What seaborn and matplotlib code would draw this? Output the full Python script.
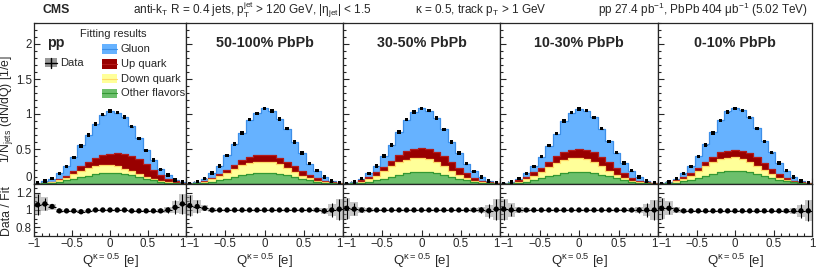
import numpy as np
import pandas as pd
import matplotlib
matplotlib.use("Agg")
import matplotlib.pyplot as plt
import matplotlib.ticker as mticker
from matplotlib.patches import Rectangle
from matplotlib.lines import Line2D
import seaborn as sns

# panels and binning
panels = ["pp", "50-100% PbPb", "30-50% PbPb", "10-30% PbPb", "0-10% PbPb"]
bin_edges = np.linspace(-1, 1, 22)
bin_centers = 0.5 * (bin_edges[:-1] + bin_edges[1:])

# data (per bin, 1/Njets dN/dQ)
data_pp = [0.02, 0.04, 0.08, 0.15, 0.25, 0.38, 0.54, 0.70, 0.86, 0.99, 1.04, 1.02, 0.96, 0.82, 0.65, 0.48, 0.34, 0.21, 0.13, 0.06, 0.03]
data_50100 = [0.01, 0.035, 0.08, 0.16, 0.26, 0.41, 0.57, 0.73, 0.92, 1.01, 1.08, 1.04, 0.93, 0.79, 0.60, 0.44, 0.29, 0.19, 0.10, 0.045, 0.015]
data_3050 = [0.01, 0.03, 0.075, 0.15, 0.26, 0.40, 0.56, 0.74, 0.92, 1.03, 1.08, 1.05, 0.94, 0.78, 0.60, 0.44, 0.29, 0.18, 0.10, 0.045, 0.015]
data_1030 = [0.01, 0.03, 0.075, 0.15, 0.25, 0.39, 0.55, 0.72, 0.90, 1.02, 1.07, 1.05, 0.95, 0.79, 0.61, 0.45, 0.30, 0.19, 0.10, 0.045, 0.015]
data_010 = [0.01, 0.03, 0.075, 0.15, 0.25, 0.39, 0.56, 0.73, 0.91, 1.03, 1.08, 1.05, 0.95, 0.79, 0.61, 0.45, 0.30, 0.19, 0.10, 0.045, 0.015]

# stacked fit components (cumulative tops: other < down < up < gluon)
up_pp = [0.006, 0.016, 0.035, 0.065, 0.11, 0.18, 0.26, 0.32, 0.37, 0.41, 0.43, 0.44, 0.43, 0.40, 0.35, 0.28, 0.20, 0.13, 0.075, 0.04, 0.016]
down_pp = [0.005, 0.012, 0.028, 0.055, 0.09, 0.14, 0.19, 0.235, 0.26, 0.27, 0.265, 0.25, 0.22, 0.18, 0.14, 0.10, 0.07, 0.045, 0.025, 0.012, 0.005]
other_pp = [0.003, 0.008, 0.016, 0.03, 0.05, 0.07, 0.095, 0.12, 0.14, 0.155, 0.16, 0.155, 0.145, 0.125, 0.10, 0.075, 0.05, 0.03, 0.018, 0.009, 0.004]

up_50100 = [0.005, 0.02, 0.045, 0.09, 0.145, 0.20, 0.27, 0.34, 0.39, 0.41, 0.415, 0.41, 0.37, 0.32, 0.25, 0.19, 0.13, 0.09, 0.05, 0.03, 0.01]
down_50100 = [0.004, 0.015, 0.035, 0.07, 0.11, 0.16, 0.22, 0.27, 0.30, 0.32, 0.32, 0.31, 0.28, 0.23, 0.17, 0.12, 0.08, 0.05, 0.03, 0.015, 0.006]
other_50100 = [0.003, 0.008, 0.018, 0.032, 0.05, 0.075, 0.10, 0.125, 0.145, 0.158, 0.162, 0.158, 0.145, 0.125, 0.10, 0.075, 0.052, 0.033, 0.019, 0.009, 0.004]

up_3050 = [0.006, 0.02, 0.05, 0.10, 0.17, 0.24, 0.33, 0.41, 0.47, 0.50, 0.51, 0.50, 0.46, 0.40, 0.32, 0.23, 0.15, 0.09, 0.05, 0.025, 0.01]
down_3050 = [0.005, 0.015, 0.035, 0.07, 0.12, 0.18, 0.25, 0.31, 0.35, 0.37, 0.37, 0.35, 0.31, 0.25, 0.19, 0.13, 0.085, 0.05, 0.028, 0.013, 0.005]
other_3050 = [0.003, 0.008, 0.018, 0.033, 0.052, 0.078, 0.105, 0.13, 0.152, 0.166, 0.17, 0.166, 0.152, 0.13, 0.105, 0.078, 0.054, 0.034, 0.02, 0.01, 0.004]

up_1030 = [0.006, 0.02, 0.05, 0.10, 0.165, 0.235, 0.32, 0.40, 0.46, 0.49, 0.50, 0.49, 0.45, 0.39, 0.31, 0.23, 0.15, 0.09, 0.05, 0.025, 0.01]
down_1030 = [0.005, 0.015, 0.035, 0.07, 0.115, 0.175, 0.245, 0.30, 0.345, 0.365, 0.37, 0.35, 0.31, 0.25, 0.19, 0.13, 0.085, 0.05, 0.028, 0.013, 0.005]
other_1030 = [0.003, 0.009, 0.019, 0.035, 0.055, 0.08, 0.108, 0.135, 0.158, 0.17, 0.175, 0.17, 0.157, 0.135, 0.108, 0.08, 0.055, 0.035, 0.02, 0.01, 0.004]

up_010 = [0.006, 0.02, 0.05, 0.095, 0.16, 0.23, 0.31, 0.39, 0.45, 0.475, 0.485, 0.475, 0.44, 0.38, 0.30, 0.22, 0.145, 0.09, 0.05, 0.025, 0.01]
down_010 = [0.005, 0.015, 0.037, 0.072, 0.12, 0.18, 0.25, 0.31, 0.355, 0.375, 0.38, 0.36, 0.32, 0.26, 0.20, 0.14, 0.09, 0.055, 0.03, 0.014, 0.006]
other_010 = [0.003, 0.01, 0.021, 0.038, 0.06, 0.087, 0.117, 0.145, 0.17, 0.185, 0.19, 0.185, 0.17, 0.147, 0.118, 0.088, 0.06, 0.038, 0.022, 0.011, 0.004]

# data / fit ratio
ratio_pp = [1.06, 1.07, 1.04, 0.99, 0.99, 0.99, 0.98, 0.99, 1.0, 1.0, 1.0, 1.0, 1.0, 0.99, 0.99, 0.99, 0.99, 0.99, 1.0, 1.03, 1.07]
ratio_50100 = [1.05, 1.04, 1.02, 1.0, 1.0, 1.0, 1.0, 1.0, 1.0, 1.0, 1.0, 1.0, 1.0, 1.0, 1.0, 1.0, 1.0, 1.0, 0.99, 1.0, 1.01]
ratio_3050 = [1.02, 1.01, 1.0, 1.0, 1.0, 1.0, 1.0, 1.0, 1.0, 1.0, 1.0, 1.0, 1.0, 1.0, 1.0, 1.0, 1.0, 1.0, 1.0, 0.99, 1.01]
ratio_1030 = [1.01, 1.0, 1.0, 1.0, 1.0, 1.0, 1.0, 1.0, 1.0, 1.0, 1.0, 1.0, 1.0, 1.0, 1.0, 1.0, 1.0, 1.0, 1.0, 1.0, 1.0]
ratio_010 = [1.02, 1.02, 1.0, 0.99, 0.99, 0.99, 0.99, 0.99, 0.99, 0.99, 0.99, 0.99, 0.99, 0.99, 0.99, 0.99, 0.99, 0.99, 0.99, 0.99, 0.99]
ratio_stat = [0.12, 0.07, 0.02, 0.01, 0.005, 0.005, 0.005, 0.005, 0.005, 0.005, 0.005, 0.005, 0.005, 0.005, 0.005, 0.005, 0.005, 0.01, 0.03, 0.08, 0.12]
ratio_syst = [0.12, 0.08, 0.035, 0.02, 0.015, 0.015, 0.015, 0.015, 0.015, 0.015, 0.015, 0.015, 0.015, 0.015, 0.015, 0.015, 0.015, 0.02, 0.035, 0.07, 0.12]

data_all = [data_pp, data_50100, data_3050, data_1030, data_010]
up_all = [up_pp, up_50100, up_3050, up_1030, up_010]
down_all = [down_pp, down_50100, down_3050, down_1030, down_010]
other_all = [other_pp, other_50100, other_3050, other_1030, other_010]
ratio_all = [ratio_pp, ratio_50100, ratio_3050, ratio_1030, ratio_010]

flavors = ["Gluon", "Up quark", "Down quark", "Other flavors"]
fills = ["#66b2ff", "#990000", "#ffff99", "#6cbf6c"]
edges = ["#3d8fe8", "#b31a1a", "#ffd966", "#339933"]

sns.set_style("ticks")
plt.rcParams["font.family"] = ["Liberation Sans", "DejaVu Sans"]
plt.rcParams["mathtext.default"] = "regular"
plt.rcParams["axes.linewidth"] = 0.9

W, H = 830, 274
xs = [34, 186, 343, 500, 658, 812]
top, mid, bot = 23, 184, 236

fig = plt.figure(figsize=(W / 100, H / 100), dpi=100)
fmt = mticker.FuncFormatter(lambda v, p: f"{v:g}".replace("-", "\u2212"))
half_bin = 0.5 * (bin_edges[1] - bin_edges[0])
main_axes, ratio_axes = [], []

for i, name in enumerate(panels):
    x0, x1 = xs[i], xs[i + 1]
    ax = fig.add_axes([x0 / W, 1 - mid / H, (x1 - x0) / W, (mid - top) / H])
    rax = fig.add_axes([x0 / W, 1 - bot / H, (x1 - x0) / W, (bot - mid) / H])
    main_axes.append(ax)
    ratio_axes.append(rax)

    data = np.array(data_all[i])
    ratio = np.array(ratio_all[i])
    fit = data / ratio
    layers = [fit, up_all[i], down_all[i], other_all[i]]
    for vals, fc, ec in zip(layers, fills, edges):
        df = pd.DataFrame({"q": bin_centers, "w": vals})
        sns.histplot(data=df, x="q", weights="w", bins=list(bin_edges), element="step",
                     fill=True, color=fc, edgecolor=ec, alpha=1, linewidth=0.9, ax=ax)
    sns.scatterplot(x=bin_centers, y=data, color="black", s=6, marker="s",
                    edgecolor="none", ax=ax, zorder=5)
    ax.errorbar(bin_centers, data, xerr=0.012, fmt="none", ecolor="black", elinewidth=0.8, zorder=5)

    # ratio panel
    syst = np.array(ratio_syst)
    rax.bar(bin_centers, 2 * syst, bottom=ratio - syst, width=2 * half_bin,
            color="#9a9a9a", alpha=0.55, linewidth=0)
    rax.errorbar(bin_centers, ratio, yerr=ratio_stat, xerr=half_bin,
                 fmt="none", ecolor="black", elinewidth=0.8, zorder=4)
    sns.scatterplot(x=bin_centers, y=ratio, color="black", s=15, edgecolor="none", ax=rax, zorder=5)

    for a in (ax, rax):
        a.set_xlim(-1, 1)
        a.set_xlabel("")
        a.set_ylabel("")
        a.xaxis.set_major_locator(mticker.MultipleLocator(0.5))
        a.xaxis.set_minor_locator(mticker.MultipleLocator(0.1))
        a.tick_params(which="both", direction="in", top=False, right=False, width=0.8, labelsize=8.3, pad=1.5)
        a.tick_params(which="major", length=4.5)
        a.tick_params(which="minor", length=2.3)
        a.xaxis.set_major_formatter(fmt)
        a.yaxis.set_major_formatter(fmt)
    ax.set_ylim(0, 2.3)
    ax.yaxis.set_major_locator(mticker.MultipleLocator(0.5))
    ax.yaxis.set_minor_locator(mticker.MultipleLocator(0.1))
    ax.tick_params(labelbottom=False)
    rax.set_ylim(0.7, 1.3)
    rax.yaxis.set_major_locator(mticker.FixedLocator([0.8, 1.0, 1.2]))
    rax.yaxis.set_minor_locator(mticker.MultipleLocator(0.05))
    if i > 0:
        ax.tick_params(labelleft=False)
        rax.tick_params(labelleft=False)
    rax.set_xlabel(r"Q$^{\kappa=0.5}$ [e]", fontsize=9.5, labelpad=1)

    if i == 0:
        ax.text(0.085, 0.876, name, transform=ax.transAxes, fontsize=10.3, fontweight="bold", va="center")
        # data legend entry
        ax.add_patch(Rectangle((0.072, 0.725), 0.08, 0.055, transform=ax.transAxes,
                               facecolor="#999999", edgecolor="none", zorder=6))
        ax.add_line(Line2D([0.072, 0.152], [0.752, 0.752], transform=ax.transAxes, color="black", lw=1, zorder=7))
        ax.add_line(Line2D([0.112, 0.112], [0.722, 0.782], transform=ax.transAxes, color="black", lw=1, zorder=7))
        ax.text(0.171, 0.752, "Data", transform=ax.transAxes, fontsize=8, va="center")
        # fit legend
        ax.text(0.30, 0.93, "Fitting results", transform=ax.transAxes, fontsize=8, va="center")
        for k, (lab, fc, ec) in enumerate(zip(flavors, fills, edges)):
            yc = 0.839 - k * 0.092
            ax.add_patch(Rectangle((0.447, yc - 0.03), 0.1, 0.06, transform=ax.transAxes,
                                   facecolor=fc, edgecolor="none", zorder=6))
            ax.add_line(Line2D([0.447, 0.547], [yc, yc], transform=ax.transAxes, color=ec, lw=0.8, zorder=7))
            ax.text(0.572, yc, lab, transform=ax.transAxes, fontsize=8, va="center")
    else:
        ax.text(0.5, 0.876, name, transform=ax.transAxes, fontsize=10.3, fontweight="bold",
                va="center", ha="center")

# y axis titles
fig.text(7 / W, 1 - 109 / H, r"1/N$_{jets}$ (dN/dQ) [1/e]", fontsize=8.8, rotation=90,
         va="center", ha="center")
fig.text(7 / W, 1 - 211 / H, "Data / Fit", fontsize=8.8, rotation=90, va="center", ha="center")

# "1-1" at panel joins: right end label leans left, left end label leans right
fig.canvas.draw()
for i, rax in enumerate(ratio_axes):
    for lab in rax.get_xticklabels():
        if i < 4 and lab.get_text() == "1":
            lab.set_ha("right")
        if i > 0 and lab.get_text() == "\u22121":
            lab.set_ha("left")
for lab in main_axes[0].get_yticklabels():
    if lab.get_text() == "0":
        lab.set_va("bottom")

# header
fig.text(42 / W, 1 - 10 / H, "CMS", fontsize=8.8, fontweight="bold", va="center")
fig.text(133 / W, 1 - 10 / H,
         r"anti-k$_{T}$ R = 0.4 jets, p$_{T}^{jet}$ > 120 GeV, |η$_{jet}$| < 1.5",
         fontsize=8.5, va="center")
fig.text(415 / W, 1 - 10 / H, r"κ = 0.5, track p$_{T}$ > 1 GeV", fontsize=8.5, va="center")
fig.text(808 / W, 1 - 10 / H, r"pp 27.4 pb$^{-1}$, PbPb 404 μb$^{-1}$ (5.02 TeV)",
         fontsize=8.5, va="center", ha="right")

fig.savefig("out.png", dpi=100)
